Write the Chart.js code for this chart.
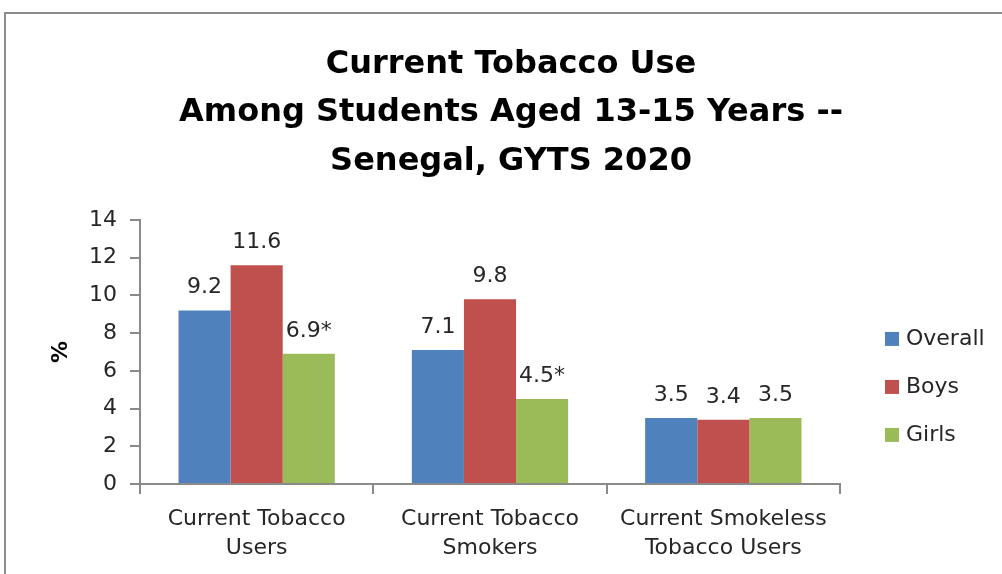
<!DOCTYPE html>
<html>
<head>
<meta charset="utf-8">
<script src="https://cdn.jsdelivr.net/npm/chart.js@4.4.0/dist/chart.umd.min.js"></script>
<style>
  body { margin: 0; background: #fff; overflow: hidden; }
  #frame { position: absolute; left: 4px; top: 12px; width: 1200px; height: 800px; border: 2px solid #8c8c8c; }
  #wrap { position: absolute; left: 0; top: 0; width: 1002px; height: 574px; }
</style>
</head>
<body>
<div id="frame"></div>
<div id="wrap"><canvas id="grafik"></canvas></div>
<script>
// data
const kategori = [["Current Tobacco", "Users"], ["Current Tobacco", "Smokers"], ["Current Smokeless", "Tobacco Users"]];
const overall = [9.2, 7.1, 3.5];
const boys = [11.6, 9.8, 3.4];
const girls = [6.9, 4.5, 3.5];
const labelOverall = ["9.2", "7.1", "3.5"];
const labelBoys = ["11.6", "9.8", "3.4"];
const labelGirls = ["6.9*", "4.5*", "3.5"];
const yTicks = [0, 2, 4, 6, 8, 10, 12, 14];
const judul = ["Current Tobacco Use", "Among Students Aged 13-15 Years --", "Senegal, GYTS 2020"];

const huruf = "'DejaVu Sans', sans-serif";
const abu = "#8a8a8a";

// label angka di atas batang
const labelBatang = {
  id: "labelBatang",
  afterDatasetsDraw(chart) {
    const ctx = chart.ctx;
    ctx.save();
    ctx.font = "22px " + huruf;
    ctx.fillStyle = "#262626";
    ctx.textAlign = "center";
    ctx.textBaseline = "alphabetic";
    chart.data.datasets.forEach((ds, i) => {
      const meta = chart.getDatasetMeta(i);
      meta.data.forEach((bar, j) => {
        ctx.fillText(ds.teks[j], bar.x, bar.y - 17);
      });
    });
    ctx.restore();
  }
};

// legenda sendiri di kanan
const legendaKanan = {
  id: "legendaKanan",
  afterDraw(chart) {
    const ctx = chart.ctx;
    const area = chart.chartArea;
    ctx.save();
    ctx.font = "22px " + huruf;
    ctx.textBaseline = "middle";
    ctx.textAlign = "left";
    chart.data.datasets.forEach((ds, i) => {
      const x = area.right + 45;
      const y = area.top + 119 + i * 48;
      ctx.fillStyle = ds.backgroundColor;
      ctx.fillRect(x, y - 7, 14, 14);
      ctx.fillStyle = "#262626";
      ctx.fillText(ds.label, x + 21, y);
    });
    ctx.restore();
  }
};

const ctx = document.getElementById("grafik").getContext("2d");
new Chart(ctx, {
  type: "bar",
  data: {
    labels: kategori,
    datasets: [
      { label: "Overall", data: overall, teks: labelOverall, backgroundColor: "#4f81bd" },
      { label: "Boys", data: boys, teks: labelBoys, backgroundColor: "#c0504d" },
      { label: "Girls", data: girls, teks: labelGirls, backgroundColor: "#9bbb59" }
    ]
  },
  options: {
    responsive: true,
    maintainAspectRatio: false,
    animation: false,
    categoryPercentage: 0.67,
    barPercentage: 1,
    layout: { padding: { left: 20, right: 0, top: 0, bottom: 0 } },
    plugins: {
      legend: { display: false },
      tooltip: { enabled: false },
      title: {
        display: true,
        text: judul,
        color: "#000",
        font: { family: huruf, size: 32, weight: "bold", lineHeight: 1.52 },
        padding: { top: 40, bottom: 34 }
      }
    },
    scales: {
      x: {
        afterFit(scale) { scale.height = 90; },
        grid: { display: true, drawOnChartArea: false, color: abu, lineWidth: 2, tickLength: 10, offset: true },
        border: { display: true, color: abu, width: 2 },
        ticks: { color: "#262626", font: { family: huruf, size: 22, lineHeight: 1.32 }, padding: 11, maxRotation: 0 }
      },
      y: {
        min: 0,
        max: 14,
        afterFit(scale) { scale.width = 120; },
        afterBuildTicks(scale) { scale.ticks = yTicks.map(v => ({ value: v })); },
        grid: { display: true, drawOnChartArea: false, color: abu, lineWidth: 2, tickLength: 10 },
        border: { display: true, color: abu, width: 2 },
        ticks: { color: "#262626", font: { family: huruf, size: 22 }, padding: 13 },
        title: { display: true, text: "%", color: "#000", font: { family: huruf, size: 22, weight: "bold" }, padding: { top: 28, bottom: 0 } }
      },
      kanan: {
        position: "right",
        display: true,
        afterFit(scale) { scale.width = 162; },
        grid: { display: false },
        border: { display: false },
        ticks: { display: false }
      }
    }
  },
  plugins: [labelBatang, legendaKanan]
});
</script>
</body>
</html>
